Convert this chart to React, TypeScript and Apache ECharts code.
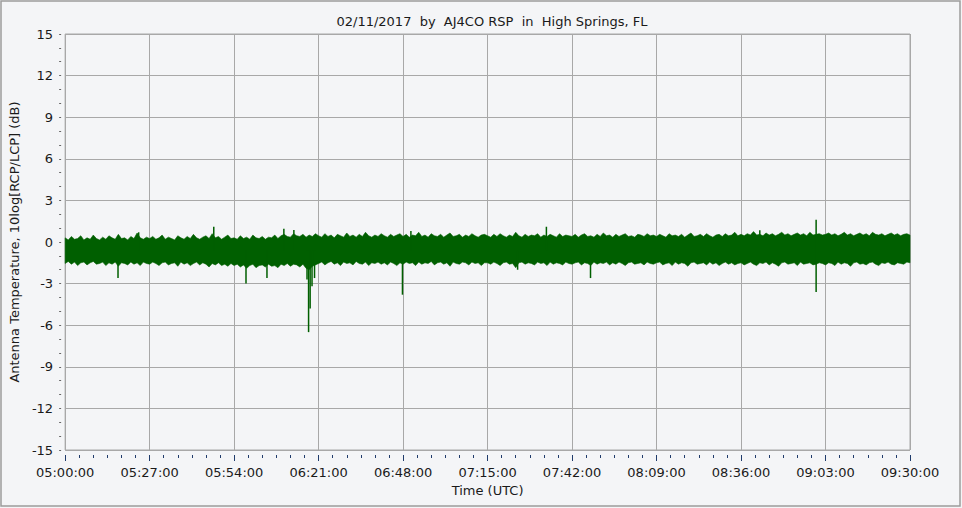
import React, { useEffect, useRef } from "react";
import * as echarts from "echarts";

// ---- data (minutes after 05:00 UTC, dB) ----
const START_HOUR = 5;
const TITLE = "02/11/2017  by  AJ4CO RSP  in  High Springs, FL";
const X_NAME = "Time (UTC)";
const Y_NAME = "Antenna Temperature, 10log[RCP/LCP] (dB)";
const X_MIN = 0;
const X_MAX = 270;
const X_STEP = 27;
const Y_MIN = -15;
const Y_MAX = 15;
const Y_STEP = 3;

// upper edge of the noise band, one value per minute from 05:00 to 09:30
const bandHigh: number[] = [
  0.3, 0.15, 0.4, 0.2, 0.25, 0.45, 0.15, 0.3, 0.2, 0.5, 0.25, 0.15, 0.35, 0.2, 0.45, 0.3, 0.2, 0.55, 0.25, 0.3, 0.15, 0.4, 0.25, 0.65, 0.3, 0.2, 0.35,
  0.25, 0.4, 0.2, 0.3, 0.5, 0.2, 0.35, 0.25, 0.15, 0.45, 0.3, 0.2, 0.4, 0.25, 0.55, 0.3, 0.2, 0.35, 0.45, 0.25, 0.6, 0.3, 0.4, 0.2, 0.35, 0.5, 0.25,
  0.3, 0.2, 0.45, 0.25, 0.35, 0.2, 0.5, 0.3, 0.25, 0.4, 0.2, 0.35, 0.3, 0.5, 0.25, 0.45, 0.55, 0.4, 0.35, 0.6, 0.45, 0.4, 0.55, 0.35, 0.5, 0.4, 0.6,
  0.45, 0.35, 0.6, 0.4, 0.5, 0.3, 0.55, 0.45, 0.35, 0.65, 0.4, 0.5, 0.35, 0.55, 0.4, 0.7, 0.45, 0.35, 0.5, 0.4, 0.6, 0.45, 0.35, 0.55, 0.4, 0.5, 0.6,
  0.4, 0.55, 0.35, 0.5, 0.45, 0.7, 0.4, 0.5, 0.35, 0.6, 0.45, 0.4, 0.55, 0.35, 0.5, 0.65, 0.4, 0.45, 0.55, 0.35, 0.5, 0.4, 0.6, 0.45, 0.35, 0.5, 0.55,
  0.45, 0.35, 0.55, 0.4, 0.6, 0.45, 0.35, 0.5, 0.4, 0.7, 0.45, 0.35, 0.55, 0.4, 0.5, 0.45, 0.6, 0.35, 0.5, 0.4, 0.55, 0.45, 0.35, 0.6, 0.4, 0.5, 0.45,
  0.4, 0.55, 0.35, 0.5, 0.6, 0.4, 0.45, 0.35, 0.55, 0.4, 0.65, 0.45, 0.5, 0.35, 0.55, 0.4, 0.5, 0.6, 0.4, 0.45, 0.35, 0.55, 0.5, 0.4, 0.6, 0.45, 0.5,
  0.4, 0.55, 0.45, 0.35, 0.6, 0.45, 0.5, 0.4, 0.55, 0.35, 0.5, 0.65, 0.4, 0.45, 0.55, 0.4, 0.6, 0.45, 0.35, 0.5, 0.55, 0.4, 0.6, 0.45, 0.5, 0.7, 0.45,
  0.55, 0.45, 0.6, 0.5, 0.75, 0.5, 0.55, 0.45, 0.65, 0.5, 0.6, 0.45, 0.55, 0.7, 0.5, 0.6, 0.45, 0.55, 0.65, 0.5, 0.6, 0.45, 0.7, 0.5, 0.55, 0.6, 0.5,
  0.55, 0.65, 0.5, 0.6, 0.45, 0.55, 0.7, 0.5, 0.6, 0.45, 0.55, 0.65, 0.5, 0.6, 0.45, 0.7, 0.55, 0.5, 0.6, 0.45, 0.55, 0.65, 0.5, 0.6, 0.45, 0.55, 0.6, 0.5,
];

// lower edge of the noise band, one value per minute from 05:00 to 09:30
const bandLow: number[] = [
  -1.55, -1.4, -1.6, -1.45, -1.7, -1.5, -1.45, -1.65, -1.5, -1.4, -1.6, -1.55, -1.45, -1.7, -1.5, -1.6, -1.45, -1.75, -1.5, -1.55, -1.65, -1.45, -1.6, -1.5, -1.7, -1.45, -1.55,
  -1.6, -1.45, -1.55, -1.7, -1.5, -1.45, -1.65, -1.55, -1.5, -1.75, -1.45, -1.6, -1.5, -1.7, -1.55, -1.45, -1.65, -1.5, -1.6, -1.8, -1.55, -1.65, -1.5, -1.7, -1.6, -1.75, -1.55,
  -1.7, -1.6, -1.8, -1.65, -1.9, -1.7, -1.6, -1.85, -1.7, -1.65, -1.8, -1.6, -1.75, -1.7, -1.85, -1.6, -1.7, -1.55, -1.75, -1.6, -1.65, -1.8, -1.6, -1.9, -2.0, -1.75, -1.65,
  -1.55, -1.45, -1.65, -1.5, -1.4, -1.6, -1.5, -1.7, -1.45, -1.55, -1.5, -1.65, -1.4, -1.55, -1.6, -1.45, -1.7, -1.5, -1.55, -1.45, -1.6, -1.5, -1.65, -1.45, -1.55, -1.7, -1.5,
  -1.6, -1.45, -1.55, -1.5, -1.7, -1.45, -1.6, -1.5, -1.55, -1.4, -1.65, -1.5, -1.45, -1.6, -1.5, -1.75, -1.45, -1.55, -1.6, -1.45, -1.5, -1.65, -1.45, -1.55, -1.5, -1.7, -1.5,
  -1.5, -1.6, -1.45, -1.55, -1.7, -1.5, -1.45, -1.6, -1.55, -1.85, -1.5, -1.45, -1.6, -1.5, -1.55, -1.65, -1.45, -1.55, -1.5, -1.7, -1.45, -1.6, -1.5, -1.55, -1.65, -1.45, -1.55,
  -1.6, -1.5, -1.45, -1.65, -1.5, -1.55, -1.7, -1.45, -1.6, -1.5, -1.55, -1.45, -1.65, -1.5, -1.6, -1.45, -1.55, -1.7, -1.5, -1.45, -1.6, -1.55, -1.5, -1.65, -1.45, -1.55, -1.6,
  -1.5, -1.45, -1.65, -1.55, -1.5, -1.7, -1.45, -1.6, -1.5, -1.55, -1.75, -1.5, -1.45, -1.6, -1.55, -1.5, -1.65, -1.45, -1.6, -1.5, -1.7, -1.55, -1.45, -1.6, -1.5, -1.65, -1.55,
  -1.5, -1.65, -1.55, -1.45, -1.6, -1.7, -1.5, -1.55, -1.45, -1.65, -1.5, -1.6, -1.75, -1.5, -1.45, -1.6, -1.55, -1.5, -1.7, -1.45, -1.6, -1.55, -1.5, -1.65, -1.6, -1.5, -1.55,
  -1.65, -1.5, -1.55, -1.7, -1.45, -1.6, -1.5, -1.55, -1.75, -1.5, -1.45, -1.6, -1.55, -1.65, -1.5, -1.45, -1.6, -1.7, -1.5, -1.55, -1.45, -1.6, -1.65, -1.5, -1.55, -1.6, -1.45, -1.5,
];

// isolated spikes: [minute after 05:00, tip value in dB]
const spikes: [number, number][] = [
  [16.9, -2.6], [23.5, 0.7], [47.5, 1.1], [57.8, -3.0], [64.5, -2.6], [69.9, 0.95], [73.1, 0.87],
  [77.3, -2.7], [77.8, -6.5], [78.3, -4.8], [78.9, -3.2], [79.7, -2.6], [107.8, -3.8], [110.5, 0.8],
  [144.6, -2.0], [153.8, 1.1], [167.9, -2.6], [222.0, 0.85], [240.0, 1.6], [240.0, -3.6],
];
const BAND_MID = -0.6;

// ---- styles ----
const FONT = "'DejaVu Sans', Verdana, sans-serif";
const FONT_SIZE = 13;
const GREEN = "#005f00";
const GRID_COLOR = "#a8a8a8";
const TEXT_COLOR = "#1a1a1a";
const BG = "#f4f5f7";

function fmtTime(m: number): string {
  const total = Math.round(m * 60);
  const h = START_HOUR + Math.floor(total / 3600);
  const mm = Math.floor((total % 3600) / 60);
  const ss = total % 60;
  const p = (n: number) => (n < 10 ? "0" + n : String(n));
  return p(h) + ":" + p(mm) + ":" + p(ss);
}

export default function App() {
  const ref = useRef<HTMLDivElement>(null);
  useEffect(() => {
    if (!ref.current) return;
    const chart = echarts.init(ref.current, undefined, { renderer: "svg" });
    const bandData = bandHigh.map((v, i) => [i, v, bandLow[i]]);
    const textStyle = { fontFamily: FONT, fontSize: FONT_SIZE, color: TEXT_COLOR };
    const option: any = {
      animation: false,
      backgroundColor: BG,
      title: {
        text: TITLE,
        left: 487,
        top: 10,
        textAlign: "center",
        textStyle: { ...textStyle, fontWeight: "normal" },
      },
      graphic: [
        {
          type: "rect",
          shape: { x: 1, y: 1, width: 959, height: 505 },
          style: { fill: "none", stroke: "#9c9c9c", lineWidth: 1.5 },
          silent: true,
          z: 100,
        },
      ],
      grid: {
        left: 64,
        right: 52,
        top: 34,
        bottom: 58,
        show: true,
        borderColor: GRID_COLOR,
        borderWidth: 1,
        backgroundColor: "transparent",
      },
      xAxis: {
        type: "value",
        min: X_MIN,
        max: X_MAX,
        interval: X_STEP,
        offset: 5,
        axisLine: { show: false, onZero: false },
        axisTick: { show: true, length: 6, lineStyle: { color: "#1f3b6b", width: 1 } },
        minorTick: { show: true, splitNumber: 6, length: 3, lineStyle: { color: "#1f3b6b", width: 1 } },
        splitLine: { show: true, lineStyle: { color: GRID_COLOR, width: 1 } },
        axisLabel: { formatter: (v: number) => fmtTime(v), margin: 11, ...textStyle },
        name: X_NAME,
        nameLocation: "middle",
        nameGap: 28,
        nameTextStyle: textStyle,
      },
      yAxis: {
        type: "value",
        min: Y_MIN,
        max: Y_MAX,
        interval: Y_STEP,
        offset: 4,
        axisLine: { show: false, onZero: false },
        axisTick: { show: true, length: 2, lineStyle: { color: "#666", width: 1 } },
        minorTick: { show: true, splitNumber: 3, length: 2, lineStyle: { color: "#666", width: 1 } },
        splitLine: { show: true, lineStyle: { color: GRID_COLOR, width: 1 } },
        axisLabel: { margin: 8, ...textStyle },
        name: Y_NAME,
        nameLocation: "middle",
        nameGap: 30,
        nameTextStyle: textStyle,
      },
      series: [
        {
          type: "custom",
          name: "band",
          data: bandData,
          encode: { x: 0, y: [1, 2] },
          silent: true,
          z: 3,
          renderItem: (params: any, api: any) => {
            if (params.dataIndex !== 0) return null;
            const top = bandData.map((d) => api.coord([d[0], d[1]]));
            const bottom = bandData.map((d) => api.coord([d[0], d[2]])).reverse();
            return {
              type: "polygon",
              shape: { points: top.concat(bottom) },
              style: { fill: GREEN, stroke: GREEN, lineWidth: 0.6 },
            };
          },
        },
        {
          type: "custom",
          name: "spikes",
          data: spikes,
          encode: { x: 0, y: 1 },
          silent: true,
          z: 4,
          renderItem: (_p: any, api: any) => {
            const a = api.coord([api.value(0), BAND_MID]);
            const b = api.coord([api.value(0), api.value(1)]);
            return {
              type: "line",
              shape: { x1: a[0], y1: a[1], x2: b[0], y2: b[1] },
              style: { stroke: GREEN, lineWidth: 1.5 },
            };
          },
        },
      ],
    };
    chart.setOption(option);
    return () => chart.dispose();
  }, []);
  return (
    <div
      ref={ref}
      style={{ position: "absolute", left: 0, top: 0, width: 962, height: 508 }}
    />
  );
}
